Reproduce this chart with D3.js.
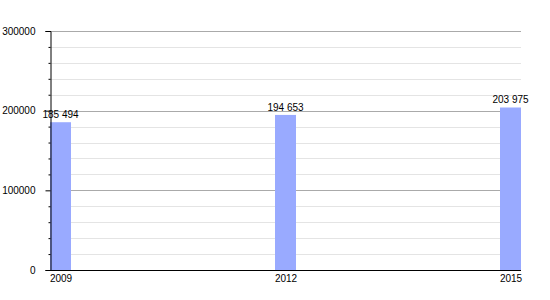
<!DOCTYPE html>
<html>
<head>
<meta charset="utf-8">
<script src="https://cdn.jsdelivr.net/npm/d3@7"></script>
<style>
	body { margin: 0; background: #fff; }
	text { font-family: "Liberation Sans", Arial, sans-serif; font-size: 10px; fill: #000; }
</style>
</head>
<body>
<svg id="canvas"></svg>
<script>
var width = 550,
	height = 300;

// data
var years = [2009, 2012, 2015];
var values = [185494, 194653, 203975];
var labels = ["185 494", "194 653", "203 975"];
var yTicks = [0, 100000, 200000, 300000];

var plotLeft = 50, plotRight = 521, plotTop = 31, plotBottom = 270;
var barW = 21;

var svg = d3.select("#canvas")
	.attr("width", width)
	.attr("height", height);

var x = d3.scalePoint()
	.domain(years)
	.range([plotLeft + barW / 2, plotRight - barW / 2]);

var y = d3.scaleLinear()
	.domain([0, 300000])
	.range([plotBottom, plotTop]);

// minor grid every 20000
var minor = d3.range(20000, 300000, 20000).filter(function(v){ return v % 100000 != 0; });

svg.append("g")
	.selectAll("line")
	.data(minor)
	.enter()
	.append("line")
	.attr("x1", plotLeft).attr("x2", plotRight)
	.attr("y1", function(d){ return Math.round(y(d)) + 0.5; })
	.attr("y2", function(d){ return Math.round(y(d)) + 0.5; })
	.attr("stroke", "#e4e4e4");

svg.append("g")
	.selectAll("line")
	.data(yTicks.slice(1))
	.enter()
	.append("line")
	.attr("x1", plotLeft).attr("x2", plotRight)
	.attr("y1", function(d){ return Math.round(y(d)) + 0.5; })
	.attr("y2", function(d){ return Math.round(y(d)) + 0.5; })
	.attr("stroke", "#aaaaaa");

// bars
svg.selectAll("rect")
	.data(values)
	.enter()
	.append("rect")
	.attr("x", function(d, i){ return x(years[i]) - barW / 2; })
	.attr("y", function(d){ return y(d); })
	.attr("width", barW)
	.attr("height", function(d){ return plotBottom - y(d); })
	.attr("fill", "#99aaff");

svg.selectAll(".val")
	.data(values)
	.enter()
	.append("text")
	.attr("class", "val")
	.attr("x", function(d, i){ return x(years[i]); })
	.attr("y", function(d){ return y(d) - 4; })
	.attr("text-anchor", "middle")
	.text(function(d, i){ return labels[i]; });

// y axis
var yAxis = d3.axisLeft(y)
	.tickValues(yTicks)
	.tickSize(5)
	.tickPadding(10)
	.tickFormat(d3.format("d"));

var ya = svg.append("g")
	.attr("transform", "translate(" + (plotLeft + 0.5) + ",0)")
	.call(yAxis);
ya.select(".domain").attr("stroke", "#000");
ya.selectAll("text").style("font-size", "10px").style("font-family", "Liberation Sans, Arial, sans-serif");

var yMinor = d3.axisLeft(y)
	.tickValues(minor)
	.tickSize(2)
	.tickFormat("");
svg.append("g")
	.attr("transform", "translate(" + (plotLeft + 0.5) + ",0)")
	.call(yMinor)
	.select(".domain").remove();

// x axis
var xa = svg.append("g")
	.attr("transform", "translate(0," + (plotBottom + 0.5) + ")")
	.call(d3.axisBottom(x).tickSize(0).tickPadding(4).tickSizeOuter(0));
xa.select(".domain").attr("d", "M" + plotLeft + ",0H" + plotRight).attr("stroke", "#000");
xa.selectAll("text").style("font-size", "10px").style("font-family", "Liberation Sans, Arial, sans-serif");
</script>
</body>
</html>
